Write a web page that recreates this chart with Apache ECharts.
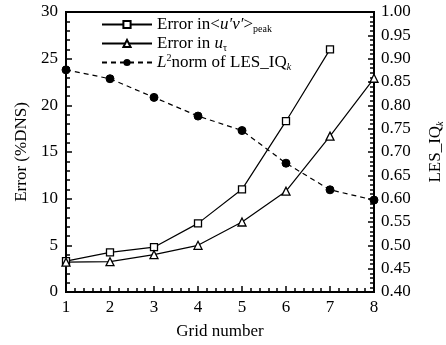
<!DOCTYPE html>
<html><head><meta charset="utf-8">
<script src="https://cdn.jsdelivr.net/npm/echarts@6/dist/echarts.min.js"></script>
<style>html,body{margin:0;padding:0;background:#fff}#c{width:446px;height:345px}</style>
</head><body><div id="c"></div>
<script>
const gridNumbers = [1, 2, 3, 4, 5, 6, 7, 8];
const errUV = [3.3, 4.25, 4.8, 7.35, 11.0, 18.3, 26.0];
const errUtau = [3.2, 3.25, 4.0, 5.0, 7.5, 10.8, 16.7, 22.9];
const l2Norm = [0.876, 0.857, 0.817, 0.777, 0.746, 0.676, 0.619, 0.597];
const leftTicks = [0, 5, 10, 15, 20, 25, 30];
const rightTicks = [0.40, 0.45, 0.50, 0.55, 0.60, 0.65, 0.70, 0.75, 0.80, 0.85, 0.90, 0.95, 1.00];

const F = 'Liberation Serif, Times New Roman, serif';
const FS = 17;
const pair = arr => arr.map((v, i) => [gridNumbers[i], v]);
const chart = echarts.init(document.getElementById('c'));
const legendText = {
  uv: '{b|Error in<}{i|u′v′}{b|>}{sub|peak}',
  ut: '{b|Error in }{i|u}{sub|τ}',
  l2: '{i|L}{sup|2}{b|norm of LES_IQ}{subi|k}'
};
const tickCommon = {
  axisLine: { show: true, lineStyle: { color: '#000', width: 2 } },
  axisTick: { inside: true, length: 6, lineStyle: { color: '#000', width: 1.5 } },
  minorTick: { show: true, splitNumber: 5, length: 4, lineStyle: { color: '#000', width: 1.5 } },
  splitLine: { show: false }
};
chart.setOption({
  animation: false,
  textStyle: { fontFamily: F, color: '#000' },
  grid: { left: 66, right: 72, top: 12, bottom: 53, containLabel: false, outerBoundsMode: 'none',
          show: true, borderColor: '#000', borderWidth: 2, backgroundColor: 'transparent' },
  legend: {
    orient: 'vertical', left: 96, top: 10, itemGap: 0, itemWidth: 50, itemHeight: 9,
    data: ['uv', 'ut', 'l2'],
    formatter: n => legendText[n],
    textStyle: {
      fontFamily: F, fontSize: FS, color: '#000',
      rich: {
        b: { fontFamily: F, fontSize: FS, color: '#000', lineHeight: 19, verticalAlign: 'middle' },
        i: { fontFamily: F, fontSize: FS, fontStyle: 'italic', color: '#000', lineHeight: 19, verticalAlign: 'middle' },
        sub: { fontFamily: F, fontSize: 10, color: '#000', verticalAlign: 'bottom', lineHeight: 19, padding: [9, 0, 0, 0] },
        subi: { fontFamily: F, fontSize: 10, fontStyle: 'italic', color: '#000', verticalAlign: 'bottom', lineHeight: 19, padding: [9, 0, 0, 0] },
        sup: { fontFamily: F, fontSize: 10, color: '#000', verticalAlign: 'top', lineHeight: 19, padding: [0, 0, 9, 0] }
      }
    }
  },
  xAxis: Object.assign({
    type: 'value', min: 1, max: 8, interval: 1,
    name: 'Grid number', nameLocation: 'middle', nameGap: 31,
    nameTextStyle: { fontFamily: F, fontSize: FS, color: '#000' },
    axisLabel: { fontFamily: F, fontSize: FS, color: '#000', margin: 7 }
  }, tickCommon),
  yAxis: [Object.assign({
    type: 'value', min: 0, max: 30, interval: 5, position: 'left',
    name: 'Error (%DNS)', nameLocation: 'middle', nameGap: 36, nameRotate: 90,
    nameTextStyle: { fontFamily: F, fontSize: FS, color: '#000' },
    axisLabel: { fontFamily: F, fontSize: FS, color: '#000', margin: 8, formatter: v => leftTicks.includes(v) ? String(v) : '' }
  }, tickCommon), Object.assign({
    type: 'value', min: 0.40, max: 1.00, interval: 0.05, position: 'right',
    name: '{b|LES_IQ}{s|k}', nameLocation: 'middle', nameGap: 52, nameRotate: 90,
    nameTextStyle: { fontFamily: F, fontSize: FS, color: '#000',
      rich: { b: { fontFamily: F, fontSize: FS, color: '#000', lineHeight: 19, verticalAlign: 'middle' },
              s: { fontFamily: F, fontSize: 10, fontStyle: 'italic', color: '#000', verticalAlign: 'bottom', lineHeight: 19, padding: [9, 0, 0, 0] } } },
    axisLabel: { fontFamily: F, fontSize: FS, color: '#000', margin: 7,
      formatter: v => { const t = rightTicks.find(r => Math.abs(r - v) < 1e-6); return t === undefined ? '' : t.toFixed(2); } }
  }, tickCommon)],
  series: [{
    name: 'uv', type: 'line', yAxisIndex: 0, data: pair(errUV),
    symbol: 'rect', symbolSize: 7,
    lineStyle: { color: '#000', width: 1.2 },
    itemStyle: { color: '#fff', borderColor: '#000', borderWidth: 1.3 }
  }, {
    name: 'ut', type: 'line', yAxisIndex: 0, data: pair(errUtau),
    symbol: 'triangle', symbolSize: 8,
    lineStyle: { color: '#000', width: 1.2 },
    itemStyle: { color: '#fff', borderColor: '#000', borderWidth: 1.3 }
  }, {
    name: 'l2', type: 'line', yAxisIndex: 1, data: pair(l2Norm),
    symbol: 'circle', symbolSize: 8,
    lineStyle: { color: '#000', width: 1.2, type: [5, 4] },
    itemStyle: { color: '#000', borderColor: '#000' }
  }]
});
</script></body></html>
